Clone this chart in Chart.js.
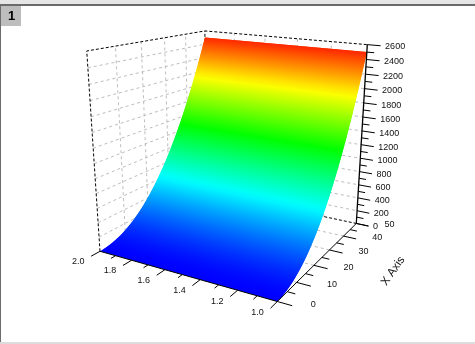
<!DOCTYPE html>
<html><head><meta charset="utf-8">
<style>html,body{margin:0;padding:0;background:#fff;overflow:hidden}canvas{display:block}</style>
<script src="https://cdn.jsdelivr.net/npm/chart.js@4"></script>
</head><body>
<canvas id="c" width="475" height="344"></canvas>
<script>
// Data
const rowX = [0,1,2,3,4,5,6,7,8,9,10,11,12,13,14,15,16,17,18,19,20,21,22,23,24,25,26,27,28,29,30,31,32,33,34,35,36,37,38,39,40,41,42,43,44,45,46,47,48,49,50];
const rowZ = [0,1,4,9,16,25,36,49,64,81,100,121,144,169,196,225,256,289,324,361,400,441,484,529,576,625,676,729,784,841,900,961,1024,1089,1156,1225,1296,1369,1444,1521,1600,1681,1764,1849,1936,2025,2116,2209,2304,2401,2500];
const yRange = [1.0, 2.0];
const xRange = [0, 50];
const zRange = [0, 2600];
const xMajor = [0,10,20,30,40,50];
const xMinor = [5,15,25,35,45];
const yMajor = [1.0,1.2,1.4,1.6,1.8,2.0];
const yMinor = [1.1,1.3,1.5,1.7,1.9];
const zMajor = [0,200,400,600,800,1000,1200,1400,1600,1800,2000,2200,2400,2600];
const zMinor = [100,300,500,700,900,1100,1300,1500,1700,1900,2100,2300,2500];
const yLabelDigits = 1;
const axisTitle = 'X Axis';
const tabLabel = '1';

// Perspective camera (vanishing points of the three box directions)
const origin = [277.3, 301.5];
const vanU = [-1052, -75], kU = 0.1539;
const vanV = [623, -40], kV = 0.2962;
const vanW = [232, 2246], kW = -0.1053;
function proj(xv, yv, zv) {
  const u = (yv - yRange[0]) / (yRange[1] - yRange[0]);
  const v = (xv - xRange[0]) / (xRange[1] - xRange[0]);
  const w = (zv - zRange[0]) / (zRange[1] - zRange[0]);
  const a = u * kU, b = v * kV, c = w * kW, d = 1 + a + b + c;
  return {
    x: (origin[0] + a * vanU[0] + b * vanV[0] + c * vanW[0]) / d,
    y: (origin[1] + a * vanU[1] + b * vanV[1] + c * vanW[1]) / d
  };
}
function jet(z) {
  const t = Math.max(0, Math.min(1, z / zRange[1])) * 4;
  let r = 0, g = 0, b = 0;
  if (t < 1) { g = t; b = 1; }
  else if (t < 2) { g = 1; b = 2 - t; }
  else if (t < 3) { r = t - 2; g = 1; }
  else { r = 1; g = 4 - t; }
  return `rgb(${Math.round(r*255)},${Math.round(g*255)},${Math.round(b*255)})`;
}
const canvas = document.getElementById('c');
const ctx0 = canvas.getContext('2d');
const datasets = [];
function line(points, color, width, dash, order) {
  datasets.push({ data: points, showLine: true, borderColor: color, borderWidth: width,
    borderDash: dash, pointRadius: 0, pointHoverRadius: 0, fill: false, order, tension: 0, clip: false });
}
const [y0, y1] = yRange, [x0, x1] = xRange, [z0, z1] = zRange;
const yStep = y1 - y0;
const xSpan = x1 - x0;

// Tick extents in axis units
const tickMajorY = y0 - 0.072 * yStep, tickMinorY = y0 - 0.04 * yStep;
const tickMajorX = x0 - 0.065 * xSpan, tickMinorX = x0 - 0.035 * xSpan;

const GRID = '#bdbdbd';
// Grey wall and floor grid
const gridX = xMajor.slice(1, -1), gridY = yMajor.slice(1, -1), gridZ = zMajor.slice(1, -1);
gridX.forEach(x => {
  line([proj(x, y1, z0), proj(x, y1, z1)], GRID, 1, [3, 3], 900);
  line([proj(x, y0, z0), proj(x, y1, z0)], GRID, 1, [3, 3], 900);
});
gridY.forEach(y => {
  line([proj(x1, y, z0), proj(x1, y, z1)], GRID, 1, [3, 3], 900);
  line([proj(x0, y, z0), proj(x1, y, z0)], GRID, 1, [3, 3], 900);
});
gridZ.forEach(z => {
  line([proj(x0, y1, z), proj(x1, y1, z), proj(x1, y0, z)], GRID, 1, [3, 3], 900);
});
// Black dashed box edges
const DASH = [3, 2];
line([proj(x0, y1, z0), proj(x0, y1, z1), proj(x1, y1, z1), proj(x1, y0, z1)], '#000', 1, DASH, 800);
line([proj(x1, y1, z0), proj(x1, y1, z1)], '#000', 1, DASH, 800);
line([proj(x1, y1, z0), proj(x1, y0, z0)], '#000', 1, DASH, 800);

// Surface strips: each strip shades smoothly between its two rows and reaches
// under the following strip so that no seam shows.
for (let i = 0; i < rowX.length - 1; i++) {
  const j = i + 1, k = Math.min(i + 2, rowX.length - 1);
  const a0 = proj(rowX[i], y0, rowZ[i]), a1 = proj(rowX[i], y1, rowZ[i]);
  const b0 = proj(rowX[j], y0, rowZ[j]), b1 = proj(rowX[j], y1, rowZ[j]);
  const c0 = proj(rowX[k], y0, rowZ[k]), c1 = proj(rowX[k], y1, rowZ[k]);
  const dx = a1.x - a0.x, dy = a1.y - a0.y, len = Math.hypot(dx, dy);
  const nx = -dy / len, ny = dx / len;
  const mx = (a0.x + a1.x) / 2, my = (a0.y + a1.y) / 2;
  const proj2 = ((b0.x + b1.x) / 2 - mx) * nx + ((b0.y + b1.y) / 2 - my) * ny;
  const g = ctx0.createLinearGradient(mx, my, mx + nx * proj2, my + ny * proj2);
  g.addColorStop(0, jet(rowZ[i]));
  g.addColorStop(1, jet(rowZ[j]));
  datasets.push({
    data: [a0, a1, c1, c0, a0],
    showLine: true, fill: 'shape', backgroundColor: g, borderWidth: 0, borderColor: 'rgba(0,0,0,0)',
    pointRadius: 0, pointHoverRadius: 0, tension: 0, clip: false, order: 500 - i
  });
}

// Solid axes and ticks
line([proj(x0, y0, z0), proj(x1, y0, z0)], '#000', 1, [], 10);
line([proj(x0, y0, z0), proj(x0, y1, z0)], '#000', 1, [], 10);
line([proj(x1, y0, z0), proj(x1, y0, z1)], '#000', 1.3, [], 10);
xMajor.forEach(x => line([proj(x, y0, z0), proj(x, tickMajorY, z0)], '#000', 1, [], 10));
xMinor.forEach(x => line([proj(x, y0, z0), proj(x, tickMinorY, z0)], '#000', 1, [], 10));
yMajor.forEach(y => line([proj(x0, y, z0), proj(tickMajorX, y, z0)], '#000', 1, [], 10));
yMinor.forEach(y => line([proj(x0, y, z0), proj(tickMinorX, y, z0)], '#000', 1, [], 10));
zMajor.forEach(z => line([proj(x1, y0, z), proj(x1, tickMajorY, z)], '#000', 1, [], 10));
zMinor.forEach(z => line([proj(x1, y0, z), proj(x1, tickMinorY, z)], '#000', 1, [], 10));

const frame = {
  id: 'frame',
  beforeDraw(chart) {
    const c = chart.ctx;
    c.save();
    c.fillStyle = '#fff'; c.fillRect(0, 0, 475, 344);
    c.fillStyle = '#e6e6e6'; c.fillRect(0, 0, 475, 4);
    c.fillStyle = '#6b6b6b'; c.fillRect(0, 4, 475, 2);
    c.fillStyle = '#6b6b6b'; c.fillRect(0, 6, 1, 336);
    c.fillStyle = '#dcdcdc'; c.fillRect(0, 342, 475, 2);
    c.fillStyle = '#bdbdbd'; c.fillRect(1, 6, 20, 20);
    c.fillStyle = '#000'; c.font = 'bold 13px "Liberation Sans"';
    c.textAlign = 'center'; c.textBaseline = 'middle';
    c.fillText(tabLabel, 11.5, 16.5);
    c.restore();
  }
};
const labels = {
  id: 'labels',
  afterDraw(chart) {
    const c = chart.ctx, sx = chart.scales.x, sy = chart.scales.y;
    const at = p => ({ x: sx.getPixelForValue(p.x), y: sy.getPixelForValue(p.y) });
    c.save();
    c.fillStyle = '#111'; c.font = '9px "Liberation Sans"';
    c.textBaseline = 'middle';
    c.textAlign = 'left';
    zMajor.forEach(z => { const p = at(proj(x1, tickMajorY, z)); c.fillText(String(z), p.x + 4.5, p.y + 0.6); });
    c.textAlign = 'center';
    xMajor.forEach(x => { const p = at(proj(x, tickMajorY, z0)); c.fillText(String(x), p.x + 21, p.y - 1.5); });
    yMajor.forEach(y => { const p = at(proj(tickMajorX, y, z0)); c.fillText(y.toFixed(yLabelDigits), p.x - 13, p.y + 4.8); });
    c.translate(393, 271);
    c.rotate(-55 * Math.PI / 180);
    c.font = '11.5px "Liberation Sans"';
    c.fillText(axisTitle, 0, 0);
    c.restore();
  }
};
new Chart(canvas, {
  type: 'scatter',
  data: { datasets },
  options: {
    responsive: false, animation: false, events: [],
    layout: { padding: 0 },
    plugins: { legend: { display: false }, tooltip: { enabled: false } },
    scales: {
      x: { type: 'linear', min: 0, max: 475, display: false },
      y: { type: 'linear', min: 0, max: 344, reverse: true, display: false }
    }
  },
  plugins: [frame, labels]
});
</script>
</body></html>
